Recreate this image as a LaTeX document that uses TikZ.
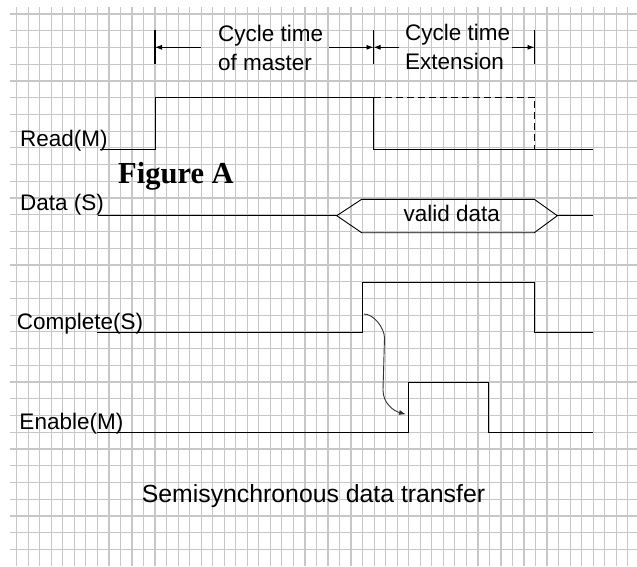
\documentclass[tikz,border=0pt]{standalone}
\usepackage{fontspec}
\setmainfont{Liberation Sans}
\newfontfamily\figfont{Liberation Serif}
\usetikzlibrary{arrows.meta}

\begin{document}
\begin{tikzpicture}[x=1pt, y=-1pt,
    gridline/.style={line width=1.2pt, black!22},
    wave/.style={line width=0.9pt, black},
    extension/.style={wave, dash pattern=on 7pt off 4pt},
    dimtick/.style={line width=1.2pt},
    dim/.style={-{Latex[length=7pt,width=5pt]}, line width=0.8pt},
    causal/.style={-{Latex[length=7pt,width=5pt]}, line width=0.9pt, black!80},
    signal/.style={anchor=base west, inner sep=0pt, font=\fontsize{22.5}{27}\selectfont},
    span/.style={anchor=west, inner sep=0pt, align=left, font=\fontsize{22.5}{29}\selectfont}
]
    % Paper and grid
    \fill[white] (0,0) rectangle (637,566);
    \useasboundingbox (0,0) rectangle (637,566);
    \foreach \i in {0,...,53}
        \draw[gridline] ({16.7+11.53*\i},7) -- ({16.7+11.53*\i},566);
    \foreach \j in {0,...,32}
        \draw[gridline] (10,{14+16.73*\j}) -- (637,{14+16.73*\j});

    % Cycle time markers
    \coordinate (t0) at (155,47.3);
    \coordinate (t1) at (373.5,47.3);
    \coordinate (t2) at (534.5,47.3);
    \draw[dimtick] (155,30) -- (155,64);
    \draw[dimtick] (373.5,30) -- (373.5,64);
    \draw[dimtick] (534.5,30) -- (534.5,64);

    \node[span] (master) at (218,48) {Cycle time\\of master};
    \node[span] (extend) at (405,47) {Cycle time\\Extension};

    \coordinate (m0) at (200.7,47.3);
    \coordinate (m1) at (329,47.3);
    \coordinate (e0) at (399,47.3);
    \coordinate (e1) at (511.7,47.3);
    \draw[dim] (m0) -- (t0);
    \draw[dim] (m1) -- (t1);
    \draw[dim] (e0) -- (t1);
    \draw[dim] (e1) -- (t2);

    % Read(M)
    \draw[wave] (100,149.3) -- (155,149.3) -- (155,97.3) -- (373.5,97.3)
        -- (373.5,149.3) -- (593,149.3);
    \draw[extension] (373.5,97.3) -- (534.5,97.3) -- (534.5,149.3);
    \node[signal] (read) at (20,146.7) {Read(M)};

    \node[anchor=base west, inner sep=0pt, font=\figfont\bfseries\fontsize{30.5}{36}\selectfont]
        (figA) at (118,183.3) {Figure A};

    % Data (S)
    \draw[wave] (97.7,215.7) -- (336.7,215.7);
    \draw[wave] (336.7,215.7) -- (361.7,199.3) -- (534.3,199.3) -- (557.3,215.7)
        -- (534.3,232.7) -- (361.7,232.7) -- cycle;
    \draw[wave] (557.3,215.7) -- (593,215.7);
    \node[signal] (data) at (20,210.7) {Data (S)};
    \node[signal, anchor=base] (valid) at (451.7,221.7) {valid data};

    % Complete(S)
    \draw[wave] (96.7,332) -- (362.3,332) -- (362.3,282.7) -- (534.3,282.7)
        -- (534.3,332) -- (592.7,332);
    \node[signal] (complete) at (16.7,329.3) {Complete(S)};

    % Enable(M)
    \draw[wave] (96.7,432.3) -- (408.3,432.3) -- (408.3,382.7) -- (488.7,382.7)
        -- (488.7,432.3) -- (592.7,432.3);
    \node[signal] (enable) at (19.3,429.3) {Enable(M)};

    % Handshake
    \coordinate (cause) at (364,314);
    \coordinate (effect) at (406,414.3);
    \draw[causal] (cause) to[out=0, in=90, looseness=0.8] (384.5,338)
        -- (383,390) to[out=-90, in=165] (effect);

    \node[anchor=base west, inner sep=0pt, font=\fontsize{24.8}{30}\selectfont]
        (caption) at (141.7,502.7) {Semisynchronous data transfer};
\end{tikzpicture}
\end{document}
